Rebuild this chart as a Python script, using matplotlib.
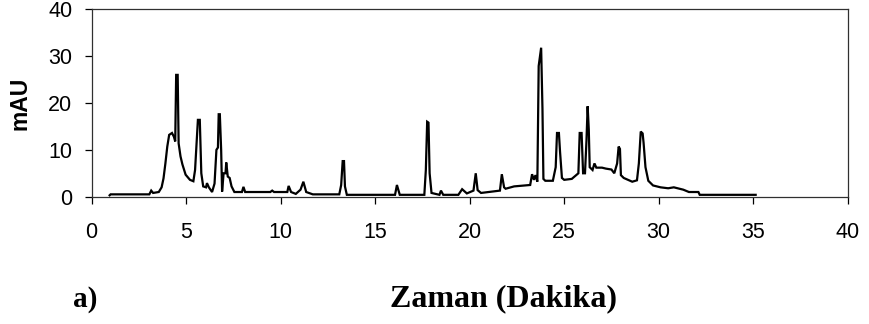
import matplotlib.pyplot as plt

# chromatogram trace (time in min, signal in mAU)
time = [0.95, 1.0, 3.05, 3.15, 3.25, 3.55, 3.7, 3.8, 3.9, 4.0, 4.1, 4.25, 4.35, 4.42,
        4.47, 4.55, 4.6, 4.7, 4.8, 4.97, 5.2, 5.38, 5.47, 5.55, 5.62, 5.72, 5.8, 5.9,
        6.05, 6.1, 6.2, 6.37, 6.5, 6.6, 6.68, 6.72, 6.78, 6.85, 6.9, 6.98, 7.08, 7.12,
        7.2, 7.3, 7.4, 7.55, 7.95, 8.03, 8.12, 9.45, 9.55, 9.65, 10.35, 10.42, 10.55,
        10.8, 11.05, 11.2, 11.35, 11.55, 11.7, 13.1, 13.2, 13.28, 13.35, 13.4, 13.5,
        16.05, 16.15, 16.3, 17.6, 17.68, 17.75, 17.82, 17.88, 17.98, 18.4, 18.48, 18.6,
        19.4, 19.6, 19.85, 20.2, 20.32, 20.42, 20.6, 21.0, 21.6, 21.7, 21.82, 21.9,
        22.35, 23.2, 23.3, 23.4, 23.48, 23.58, 23.65, 23.78, 23.85, 23.9, 24.0, 24.4,
        24.55, 24.62, 24.72, 24.78, 24.88, 25.0, 25.4, 25.75, 25.82, 25.92, 26.0, 26.1,
        26.18, 26.24, 26.3, 26.35, 26.5, 26.6, 26.7, 27.0, 27.2, 27.5, 27.65, 27.8,
        27.88, 27.95, 28.0, 28.15, 28.6, 28.85, 28.95, 29.05, 29.15, 29.2, 29.3, 29.45,
        29.7, 30.1, 30.5, 30.8, 31.0, 31.3, 31.6, 32.1, 32.17, 35.13]
mau = [0.3, 0.5, 0.5, 1.3, 0.8, 1.0, 2.0, 3.9, 7.1, 10.7, 13.2, 13.6, 12.8, 11.8,
       26.0, 26.0, 11.4, 8.6, 6.9, 4.7, 3.6, 3.3, 5.7, 11.6, 16.4, 16.4, 5.0, 2.2,
       2.0, 2.9, 2.0, 1.0, 2.8, 10.0, 10.5, 17.6, 17.6, 10.0, 1.1, 5.0, 5.0, 7.3,
       4.3, 4.0, 2.2, 1.0, 1.0, 2.1, 1.0, 1.0, 1.3, 1.0, 1.0, 2.3, 1.0,
       0.6, 1.5, 3.2, 1.0, 0.7, 0.5, 0.5, 2.5, 7.6, 7.6, 2.2, 0.4,
       0.4, 2.5, 0.4, 0.4, 5.7, 16.0, 15.8, 5.0, 0.8, 0.4, 1.3, 0.4,
       0.4, 1.6, 0.7, 1.3, 5.0, 1.4, 0.8, 1.0, 1.3, 4.8, 2.0, 1.7,
       2.2, 2.5, 4.8, 3.6, 4.6, 3.2, 27.9, 31.8, 18.8, 3.8, 3.4, 3.4,
       6.3, 13.6, 13.6, 9.6, 4.0, 3.6, 3.8, 5.0, 13.6, 13.6, 5.0, 5.0,
       12.1, 19.3, 14.4, 6.3, 5.7, 7.1, 6.2, 6.2, 6.0, 5.8, 5.0, 7.1,
       10.7, 10.2, 4.6, 4.0, 3.2, 3.5, 7.1, 13.9, 13.5, 11.5, 6.3, 3.4,
       2.4, 2.0, 1.8, 2.0, 1.8, 1.5, 1.0, 1.0, 0.4, 0.4]

x_ticks = [0, 5, 10, 15, 20, 25, 30, 35, 40]
y_ticks = [0, 10, 20, 30, 40]

plt.rcParams['font.family'] = 'Liberation Sans'

fig = plt.figure(figsize=(8.69, 3.24), dpi=100)
ax = fig.add_axes([0.1055, 0.3929, 0.87, 0.5784])

ax.plot(time, mau, color='black', lw=1.6, solid_joinstyle='miter')

ax.set_xlim(0, 40)
ax.set_ylim(0, 40)
ax.set_xticks(x_ticks)
ax.set_yticks(y_ticks)
ax.tick_params(axis='both', direction='out', length=5, width=0.9, colors='black',
               labelsize=15.5)
ax.tick_params(axis='x', pad=13)
ax.tick_params(axis='y', pad=9)
for s in ax.spines.values():
    s.set_color('#303030')
    s.set_linewidth(0.9)

fig.text(20.5 / 869, 0.6806, 'mAU', rotation=90, ha='center', va='center',
         fontsize=16.5, fontweight='bold')
fig.text(85.5 / 869, 0.0534, 'a)', ha='center', va='baseline',
         fontsize=21, fontweight='bold', family='Liberation Serif')
fig.text(503.5 / 869, 0.0534, 'Zaman (Dakika)', ha='center', va='baseline',
         fontsize=23, fontweight='bold', family='Liberation Serif')

fig.savefig('out.png', dpi=100)
